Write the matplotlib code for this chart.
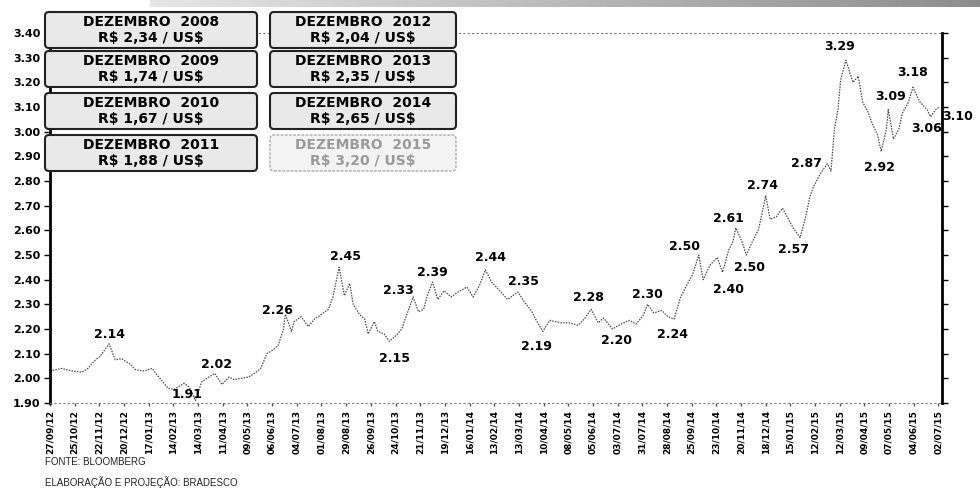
import numpy as np
import pandas as pd
import matplotlib
matplotlib.use("Agg")
import matplotlib.pyplot as plt
from matplotlib.patches import FancyBboxPatch

# cotação diária R$/US$ (amostrada) - Bloomberg
dates = [
    "2012-09-27", "2012-10-10", "2012-10-22", "2012-11-02", "2012-11-09", "2012-11-16",
    "2012-11-23", "2012-12-03", "2012-12-10", "2012-12-17", "2012-12-26", "2013-01-02",
    "2013-01-11", "2013-01-21", "2013-01-25", "2013-02-01", "2013-02-08", "2013-02-15",
    "2013-02-26", "2013-03-04", "2013-03-11", "2013-03-18", "2013-03-26", "2013-04-02",
    "2013-04-10", "2013-04-18", "2013-04-24", "2013-05-02", "2013-05-10", "2013-05-17",
    "2013-05-24", "2013-05-31", "2013-06-07", "2013-06-13", "2013-06-19", "2013-06-21",
    "2013-06-28", "2013-07-01", "2013-07-09", "2013-07-17", "2013-07-24", "2013-08-01",
    "2013-08-09", "2013-08-14", "2013-08-21", "2013-08-27", "2013-09-02", "2013-09-06",
    "2013-09-13", "2013-09-19", "2013-09-23", "2013-09-30", "2013-10-04", "2013-10-11",
    "2013-10-17", "2013-10-25", "2013-10-31", "2013-11-05", "2013-11-13", "2013-11-19",
    "2013-11-25", "2013-11-29", "2013-12-05", "2013-12-11", "2013-12-18", "2013-12-26",
    "2014-01-03", "2014-01-13", "2014-01-20", "2014-01-27", "2014-02-03", "2014-02-10",
    "2014-02-18", "2014-02-28", "2014-03-12", "2014-03-19", "2014-03-27", "2014-04-01",
    "2014-04-09", "2014-04-17", "2014-04-30", "2014-05-09", "2014-05-19", "2014-05-26",
    "2014-06-03", "2014-06-11", "2014-06-17", "2014-06-27", "2014-07-07", "2014-07-16",
    "2014-07-24", "2014-08-01", "2014-08-06", "2014-08-13", "2014-08-22", "2014-08-29",
    "2014-09-05", "2014-09-12", "2014-09-19", "2014-09-26", "2014-10-03", "2014-10-08",
    "2014-10-16", "2014-10-24", "2014-10-30", "2014-11-06", "2014-11-11", "2014-11-14",
    "2014-11-21", "2014-11-26", "2014-12-03", "2014-12-10", "2014-12-18", "2014-12-23",
    "2014-12-30", "2015-01-06", "2015-01-12", "2015-01-19", "2015-01-26", "2015-02-02",
    "2015-02-06", "2015-02-10", "2015-02-18", "2015-02-26", "2015-03-02", "2015-03-06",
    "2015-03-10", "2015-03-13", "2015-03-19", "2015-03-27", "2015-04-02", "2015-04-07",
    "2015-04-13", "2015-04-17", "2015-04-24", "2015-04-28", "2015-05-04", "2015-05-06",
    "2015-05-12", "2015-05-18", "2015-05-22", "2015-05-29", "2015-06-03", "2015-06-11",
    "2015-06-19", "2015-06-23", "2015-06-29", "2015-07-03",
]
usd_brl = [
    2.03, 2.04, 2.03, 2.025, 2.04, 2.07,
    2.09, 2.14, 2.075, 2.08, 2.06, 2.035,
    2.03, 2.04, 2.02, 1.99, 1.96, 1.955,
    1.98, 1.965, 1.91, 1.985, 2.005, 2.02,
    1.975, 2.005, 1.995, 2.00, 2.005, 2.02,
    2.04, 2.10, 2.115, 2.135, 2.20, 2.26,
    2.19, 2.23, 2.25, 2.21, 2.24, 2.26,
    2.28, 2.33, 2.45, 2.335, 2.385, 2.30,
    2.26, 2.24, 2.18, 2.23, 2.19, 2.18,
    2.15, 2.175, 2.20, 2.25, 2.33, 2.27,
    2.28, 2.335, 2.39, 2.32, 2.355, 2.33,
    2.35, 2.37, 2.33, 2.375, 2.44, 2.39,
    2.36, 2.32, 2.35, 2.31, 2.275, 2.24,
    2.19, 2.235, 2.225, 2.225, 2.215, 2.24,
    2.28, 2.225, 2.245, 2.20, 2.22, 2.235,
    2.22, 2.255, 2.30, 2.265, 2.275, 2.25,
    2.24, 2.325, 2.375, 2.42, 2.50, 2.40,
    2.46, 2.49, 2.43, 2.52, 2.555, 2.61,
    2.555, 2.50, 2.555, 2.605, 2.74, 2.645,
    2.655, 2.69, 2.65, 2.605, 2.57, 2.665,
    2.735, 2.775, 2.83, 2.87, 2.84, 3.01,
    3.09, 3.21, 3.29, 3.20, 3.225, 3.12,
    3.08, 3.04, 2.985, 2.92, 3.01, 3.09,
    2.97, 3.01, 3.075, 3.12, 3.18, 3.12,
    3.09, 3.06, 3.09, 3.10,
]

# pontos de máximo/mínimo destacados
label_dates = [
    "2012-12-03", "2013-03-11", "2013-04-02", "2013-06-21", "2013-08-21", "2013-10-17",
    "2013-11-13", "2013-12-05", "2014-02-03", "2014-03-12", "2014-04-09", "2014-06-03",
    "2014-06-27", "2014-08-06", "2014-09-05", "2014-10-03", "2014-10-08", "2014-11-14",
    "2014-11-26", "2014-12-18", "2015-01-26", "2015-02-26", "2015-03-19", "2015-04-28",
    "2015-05-06", "2015-06-03", "2015-06-23", "2015-07-03",
]
# deslocamento do texto em pixels
label_offsets = [
    (0, 9), (-8, 6), (2, 9), (-8, 4), (6, 11), (5, -17),
    (-15, 6), (0, 10), (5, 12), (5, 11), (-6, -15), (-3, 12),
    (4, -12), (0, 10), (-2, -15), (-14, 9), (25, -10), (-7, 9),
    (3, -12), (-3, 10), (-7, -12), (-21, 0), (-6, 14), (-2, -16),
    (2, 13), (0, 15), (-4, -12), (18, -9),
]

tick_labels = [
    "27/09/12", "25/10/12", "22/11/12", "20/12/12", "17/01/13", "14/02/13", "14/03/13",
    "11/04/13", "09/05/13", "06/06/13", "04/07/13", "01/08/13", "29/08/13", "26/09/13",
    "24/10/13", "21/11/13", "19/12/13", "16/01/14", "13/02/14", "13/03/14", "10/04/14",
    "08/05/14", "05/06/14", "03/07/14", "31/07/14", "28/08/14", "25/09/14", "23/10/14",
    "20/11/14", "18/12/14", "15/01/15", "12/02/15", "12/03/15", "09/04/15", "07/05/15",
    "04/06/15", "02/07/15",
]

box_years = [2008, 2009, 2010, 2011, 2012, 2013, 2014, 2015]
box_rates = ["2,34", "1,74", "1,67", "1,88", "2,04", "2,35", "2,65", "3,20"]

W, H = 980, 495
fig = plt.figure(figsize=(W / 100, H / 100), dpi=100)
fig.patch.set_facecolor("white")

x = pd.to_datetime(dates)
serie = pd.Series(usd_brl, index=x)
ticks = pd.to_datetime(tick_labels, format="%d/%m/%y")

ax = fig.add_axes([50 / W, 92 / H, 892 / W, 370 / H])
ax.plot(serie.index, serie.values, color="#4a4a4a", lw=0.9, ls=(0, (1.2, 1.0)))

ax.set_xlim(pd.Timestamp("2012-09-27"), pd.Timestamp("2015-07-06"))
ax.set_ylim(1.90, 3.40)

yt = np.arange(1.90, 3.401, 0.10)
ax.set_yticks(yt)
ax.set_yticklabels([f"{v:.2f}" for v in yt], fontsize=8, fontweight="bold")
ax.tick_params(axis="y", direction="out", length=4, width=1, pad=3, right=True)

ax.set_xticks(ticks)
ax.set_xticklabels(tick_labels, rotation=90, fontsize=6.5, fontweight="bold")
ax.tick_params(axis="x", direction="out", length=2, width=1, color="#555555", pad=3)

for side in ["left", "right"]:
    ax.spines[side].set_linewidth(2)
    ax.spines[side].set_color("black")
for side in ["top", "bottom"]:
    ax.spines[side].set_linestyle((0, (1, 3)))
    ax.spines[side].set_linewidth(0.8)
    ax.spines[side].set_color("#777777")

for d, (dx, dy) in zip(label_dates, label_offsets):
    t = pd.Timestamp(d)
    v = serie[t]
    ax.annotate(f"{v:.2f}", (t, v), xytext=(dx, dy), textcoords="offset pixels",
                ha="center", va="center", fontsize=9, fontweight="bold",
                annotation_clip=False)

# quadros com a cotação de dezembro de cada ano
cols = [(45, 212), (270, 186)]
rows = [12, 51, 93, 135]
for i, (yr, rate) in enumerate(zip(box_years, box_rates)):
    x0, w = cols[i // 4]
    y0 = rows[i % 4]
    h = 36
    faded = yr == 2015
    box = FancyBboxPatch((x0 / 100, (H - y0 - h) / 100), w / 100, h / 100,
                         boxstyle="round,pad=0,rounding_size=0.04",
                         transform=fig.dpi_scale_trans,
                         facecolor="#f3f3f3" if faded else "#e9e9e9",
                         edgecolor="#aaaaaa" if faded else "#222222",
                         lw=1.0 if faded else 1.5,
                         ls=(0, (2, 1)) if faded else "-")
    fig.add_artist(box)
    fig.text((x0 + w / 2) / W, 1 - (y0 + h / 2) / H,
             f"DEZEMBRO  {yr}\nR\\$ {rate} / US\\$",
             ha="center", va="center", fontsize=10, fontweight="bold",
             linespacing=1.25, color="#9a9a9a" if faded else "black")

# faixa escura no topo da página
band = fig.add_axes([150 / W, 1 - 7 / H, 830 / W, 7 / H])
band.imshow(np.linspace(0.9, 0.55, 200)[None, :], cmap="gray", vmin=0, vmax=1,
            aspect="auto")
band.axis("off")

fig.text(45 / W, 1 - 462 / H, "FONTE: BLOOMBERG", fontsize=7, color="#222222",
         va="center", family="Liberation Sans")
fig.text(45 / W, 1 - 482 / H, "ELABORAÇÃO E PROJEÇÃO: BRADESCO", fontsize=7,
         color="#222222", va="center", family="Liberation Sans")

fig.savefig("out.png", dpi=100)
